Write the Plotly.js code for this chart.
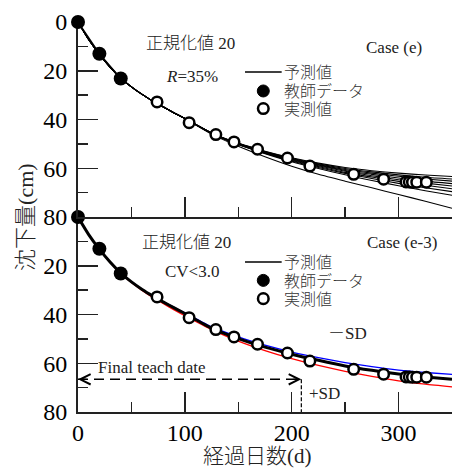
<!DOCTYPE html>
<html>
<head>
<meta charset="utf-8">
<script src="https://cdn.plot.ly/plotly-3.0.1.min.js"></script>
<style>html,body{margin:0;padding:0;background:#fff}#chart{width:461px;height:468px}</style>
</head>
<body>
<div id="chart"></div>
<script>
// ---- data ----
const teachDays = [0, 20, 40];
const teachVals = [0, 13, 23.2];
const measDays = [74, 104, 129, 146, 168, 196, 217, 258, 286, 307, 310, 313, 317, 326];
const measVals = [32.8, 41.3, 46.2, 49.2, 52.2, 55.8, 59.1, 62.5, 64.5, 65.6, 65.6, 65.7, 65.7, 65.7];

const predDays = [0, 10, 20, 30, 40, 50, 60, 70, 80, 90, 100, 125, 150, 175, 200, 225, 250, 275, 300, 325, 350];
// Case (e): ensemble of predictions
const predE1 = [0, 7.2, 13.2, 18.5, 23, 26.6, 29.7, 32.4, 34.9, 37.3, 39.6, 45.5, 49.7, 53.0, 55.7, 57.9, 59.7, 61.0, 62.0, 62.8, 63.4];
const predE2 = [0, 7.2, 13.2, 18.5, 23, 26.6, 29.7, 32.4, 34.9, 37.3, 39.6, 45.5, 49.8, 53.1, 55.9, 58.2, 60.1, 61.5, 62.7, 63.7, 64.4];
const predE3 = [0, 7.2, 13.2, 18.5, 23, 26.6, 29.7, 32.4, 34.9, 37.3, 39.6, 45.6, 49.9, 53.3, 56.1, 58.5, 60.5, 62.0, 63.3, 64.4, 65.3];
const predE4 = [0, 7.2, 13.2, 18.5, 23, 26.6, 29.7, 32.4, 34.9, 37.3, 39.6, 45.6, 49.9, 53.4, 56.3, 58.7, 60.9, 62.5, 64.0, 65.3, 66.3];
const predE5 = [0, 7.2, 13.2, 18.5, 23, 26.6, 29.7, 32.4, 34.9, 37.3, 39.6, 45.6, 50.0, 53.5, 56.5, 59.0, 61.2, 63.1, 64.7, 66.1, 67.3];
const predE6 = [0, 7.2, 13.2, 18.5, 23, 26.6, 29.7, 32.4, 34.9, 37.3, 39.6, 45.6, 50.1, 53.7, 56.8, 59.3, 61.7, 63.6, 65.4, 67.0, 68.4];
const predE7 = [0, 7.2, 13.2, 18.5, 23, 26.6, 29.7, 32.4, 34.9, 37.3, 39.6, 45.7, 50.2, 53.8, 57.0, 59.7, 62.1, 64.2, 66.2, 68.0, 69.6];
const predE8 = [0, 7.2, 13.2, 18.5, 23, 26.6, 29.7, 32.4, 34.9, 37.3, 39.6, 45.7, 50.3, 54.0, 57.3, 60.1, 62.7, 65.0, 67.2, 69.2, 71.1];
const predE9 = [0, 7.2, 13.2, 18.5, 23, 26.6, 29.7, 32.4, 34.9, 37.3, 39.6, 46.0, 51.0, 55.3, 59.2, 62.5, 65.3, 68.0, 70.8, 73.5, 76.4];
// Case (e-3): mean prediction and ±SD
const predMean = [0, 7.2, 13.2, 18.5, 23, 26.6, 29.7, 32.4, 34.9, 37.3, 39.6, 45.6, 49.9, 53.4, 56.3, 58.8, 61.1, 62.9, 64.4, 65.6, 66.6];
const predMinusSD = [0, 7.2, 13.2, 18.5, 23, 26.6, 29.7, 32.4, 34.8, 37.1, 39.3, 45.0, 49.2, 52.6, 55.4, 57.7, 59.7, 61.4, 62.8, 63.8, 64.6];
const predPlusSD = [0, 7.2, 13.2, 18.6, 23.2, 26.9, 30.1, 33.0, 35.6, 38.1, 40.5, 46.2, 50.9, 54.8, 58.1, 60.9, 63.3, 65.4, 67.2, 68.6, 69.7];

const finalTeachDay = 209;
const finalTeachVal = 66.6;

const xTickVals = [0, 100, 200, 300];
const yTickValsTop = [0, 20, 40, 60, 80];
const yTickValsBottom = [0, 20, 40, 60, 80];
const yTickTextBottom = ['', '20', '40', '60', '80'];

// ---- styles ----
const SERIF = 'Liberation Serif, Noto Sans CJK JP, serif';
const ensemble = [predE1, predE2, predE3, predE4, predE5, predE6, predE7, predE8, predE9];

const traces = [];
ensemble.forEach(v => traces.push({
  x: predDays, y: v, xaxis: 'x2', yaxis: 'y2', mode: 'lines', name: '予測値',
  line: {color: '#000', width: 1.1, shape: 'spline', smoothing: 0.6}, showlegend: false, hoverinfo: 'skip'
}));
traces.push({x: measDays, y: measVals, xaxis: 'x2', yaxis: 'y2', mode: 'markers', name: '実測値', cliponaxis: false,
  marker: {size: 10.5, color: '#fff', line: {color: '#000', width: 2.5}}, showlegend: false});
traces.push({x: teachDays, y: teachVals, xaxis: 'x2', yaxis: 'y2', mode: 'lines+markers', name: '教師データ', cliponaxis: false,
  line: {color: '#000', width: 1.5}, marker: {size: 14, color: '#000'}, showlegend: false});

traces.push({x: predDays, y: predMinusSD, xaxis: 'x', yaxis: 'y', mode: 'lines', name: '−SD',
  line: {color: '#0000ff', width: 1.3, shape: 'spline', smoothing: 0.6}, showlegend: false});
traces.push({x: predDays, y: predPlusSD, xaxis: 'x', yaxis: 'y', mode: 'lines', name: '+SD',
  line: {color: '#ff0000', width: 1.3, shape: 'spline', smoothing: 0.6}, showlegend: false});
traces.push({x: predDays, y: predMean, xaxis: 'x', yaxis: 'y', mode: 'lines', name: '予測値',
  line: {color: '#000', width: 3, shape: 'spline', smoothing: 0.6}, showlegend: false});
traces.push({x: measDays, y: measVals, xaxis: 'x', yaxis: 'y', mode: 'markers', name: '実測値', cliponaxis: false,
  marker: {size: 10.5, color: '#fff', line: {color: '#000', width: 2.5}}, showlegend: false});
traces.push({x: teachDays, y: teachVals, xaxis: 'x', yaxis: 'y', mode: 'markers', name: '教師データ', cliponaxis: false,
  marker: {size: 14, color: '#000'}, showlegend: false});

const axisCommon = {
  showgrid: false, zeroline: false, showline: true, linecolor: '#222', linewidth: 2,
  ticks: 'inside', ticklen: 20, tickwidth: 1.5, tickcolor: '#222',
  tickfont: {family: SERIF, size: 24, color: '#000'}, layer: 'below traces'
};
const xMinor = {ticks: 'inside', ticklen: 10, tickwidth: 1.5, tickcolor: '#222', dtick: 50, tick0: 0};
const yMinor = {ticks: 'inside', ticklen: 10, tickwidth: 1.5, tickcolor: '#222', dtick: 10, tick0: 0};

const txt = (text, x, y, ref, opts) => Object.assign({
  text: text, x: x, y: y, xref: 'x' + ref, yref: 'y' + ref, showarrow: false,
  xanchor: 'center', yanchor: 'middle', font: {family: SERIF, size: 17, color: '#222', weight: 300}
}, opts || {});
const legFont = {family: SERIF, size: 16, color: '#333', weight: 300};

function legendBlock(ref, yLine, yFill, yOpen) {
  const xr = 'x' + ref, yr = 'y' + ref;
  const shapes = [
    {type: 'line', xref: xr, yref: yr, x0: 156.3, x1: 190.6, y0: yLine, y1: yLine, line: {color: '#000', width: 1.5}},
    {type: 'circle', xref: xr, yref: yr, xsizemode: 'pixel', ysizemode: 'pixel', xanchor: 173.4, yanchor: yFill,
     x0: -6, x1: 6, y0: -6, y1: 6, fillcolor: '#000', line: {color: '#000', width: 1}},
    {type: 'circle', xref: xr, yref: yr, xsizemode: 'pixel', ysizemode: 'pixel', xanchor: 173.4, yanchor: yOpen,
     x0: -5.3, x1: 5.3, y0: -5.3, y1: 5.3, fillcolor: '#fff', line: {color: '#000', width: 2.5}}
  ];
  const anns = [
    txt('予測値', 190.8, yLine + 0.3, ref, {xanchor: 'left', font: legFont}),
    txt('教師データ', 191.2, yFill + 0.3, ref, {xanchor: 'left', font: legFont}),
    txt('実測値', 191.2, yOpen + 0.5, ref, {xanchor: 'left', font: legFont})
  ];
  return {shapes, anns};
}
const legTop = legendBlock('2', 20.5, 28.3, 35.5);
const legBot = legendBlock('', 18.5, 26, 33.5);

const shapes = legTop.shapes.concat(legBot.shapes).concat([
  {type: 'line', xref: 'x', yref: 'y', x0: 0, x1: finalTeachDay, y0: finalTeachVal, y1: finalTeachVal,
   line: {color: '#000', width: 1.5, dash: '10px,6px'}},
  {type: 'line', xref: 'x', yref: 'y', x0: finalTeachDay, x1: finalTeachDay, y0: finalTeachVal, y1: 80,
   line: {color: '#000', width: 1.2, dash: '4px,2px'}}
]);

const annotations = legTop.anns.concat(legBot.anns).concat([
  txt('正規化値 20', 105.7, 8.9, '2'),
  txt('<i>R</i>=35%', 106.7, 22.3, '2'),
  txt('Case (e)', 295.4, 10.3, '2'),
  txt('正規化値 20', 102, 10.3, ''),
  txt('CV&lt;3.0', 106.4, 22.2, ''),
  txt('Case (e-3)', 303, 10.3, ''),
  txt('－SD', 252, 47.8, ''),
  txt('+SD', 231, 72.5, ''),
  txt('Final teach date', 68.8, 61.7, ''),
  {x: 0, y: finalTeachVal, xref: 'x', yref: 'y', text: '', showarrow: true, ax: 10, ay: 0,
   arrowhead: 5, arrowsize: 1.7, arrowwidth: 1.2, arrowcolor: '#000'},
  {x: finalTeachDay, y: finalTeachVal, xref: 'x', yref: 'y', text: '', showarrow: true, ax: -10, ay: 0,
   arrowhead: 5, arrowsize: 1.7, arrowwidth: 1.2, arrowcolor: '#000'},
  {text: '沈下量(cm)', xref: 'paper', yref: 'paper', x: -0.142, y: 0.5, textangle: -90, showarrow: false,
   xanchor: 'center', yanchor: 'middle', font: {family: SERIF, size: 22, color: '#222', weight: 300}},
  {text: '経過日数(d)', xref: 'paper', yref: 'paper', x: 0.48, y: -0.113, showarrow: false,
   xanchor: 'center', yanchor: 'middle', font: {family: SERIF, size: 21, color: '#222', weight: 300}}
]);

const layout = {
  width: 461, height: 468,
  margin: {l: 78, r: 9, t: 22, b: 56},
  paper_bgcolor: '#fff', plot_bgcolor: '#fff', showlegend: false,
  xaxis: Object.assign({}, axisCommon, {anchor: 'y', range: [0, 350], tickmode: 'array', tickvals: xTickVals,
    minor: xMinor, ticklabelstandoff: -2}),
  xaxis2: Object.assign({}, axisCommon, {anchor: 'y2', matches: 'x', range: [0, 350], tickmode: 'array', tickvals: xTickVals,
    showticklabels: false, minor: xMinor}),
  yaxis: Object.assign({}, axisCommon, {anchor: 'x', domain: [0, 0.5], range: [80, 0], tickmode: 'array',
    tickvals: yTickValsBottom, ticktext: yTickTextBottom, minor: yMinor, ticklabelstandoff: 4}),
  yaxis2: Object.assign({}, axisCommon, {anchor: 'x2', domain: [0.5, 1], range: [80, 0], tickmode: 'array',
    tickvals: yTickValsTop, minor: yMinor, ticklabelstandoff: 4}),
  shapes: shapes,
  annotations: annotations
};

Plotly.newPlot('chart', traces, layout, {staticPlot: true, displayModeBar: false});
</script>
</body>
</html>
